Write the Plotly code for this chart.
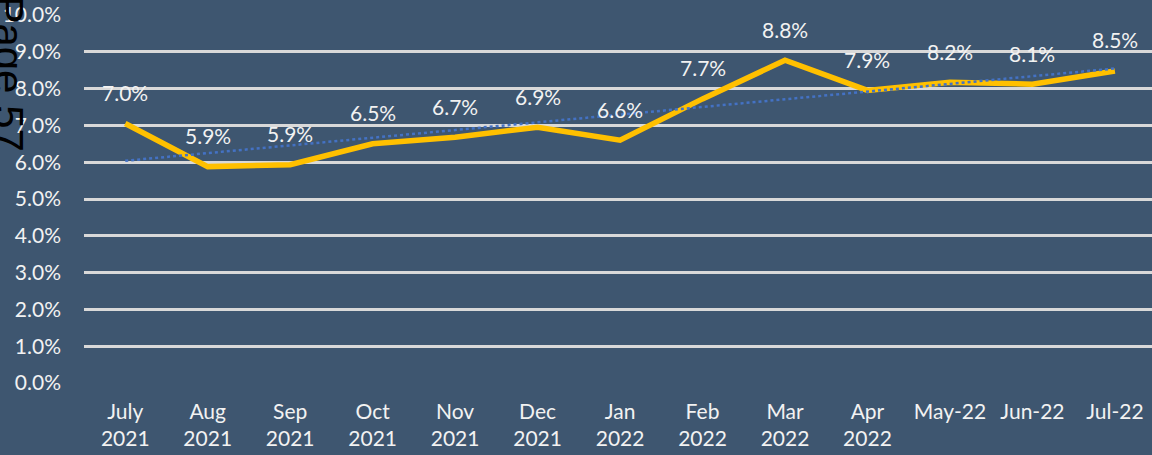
import plotly.graph_objects as go
import numpy as np

categories = ["July<br>2021", "Aug<br>2021", "Sep<br>2021", "Oct<br>2021", "Nov<br>2021",
              "Dec<br>2021", "Jan<br>2022", "Feb<br>2022", "Mar<br>2022", "Apr<br>2022",
              "May-22", "Jun-22", "Jul-22"]
values = [7.05, 5.88, 5.93, 6.5, 6.68, 6.95, 6.6, 7.72, 8.77, 7.95, 8.17, 8.12, 8.48]
labels = ["7.0%", "5.9%", "5.9%", "6.5%", "6.7%", "6.9%", "6.6%", "7.7%", "8.8%",
          "7.9%", "8.2%", "8.1%", "8.5%"]
y_ticks = [0, 1, 2, 3, 4, 5, 6, 7, 8, 9, 10]

# linear trendline (least squares), like the spreadsheet's trendline
xi = np.arange(len(values))
slope, intercept = np.polyfit(xi, values, 1)
trend = list(intercept + slope * xi)

BG = "#3E5670"
FONT = "Lato"
FS = 21

fig = go.Figure()
fig.add_trace(go.Scatter(x=categories, y=values, mode="lines",
                         line=dict(color="#FFC000", width=5.5), hoverinfo="skip"))
fig.add_trace(go.Scatter(x=categories, y=trend, mode="lines",
                         line=dict(color="#4472C4", width=2.5, dash="dot"), hoverinfo="skip"))

for c, v, t in zip(categories, values, labels):
    fig.add_annotation(x=c, y=v, text=t, showarrow=False, yshift=31,
                       font=dict(family=FONT, size=FS, color="#F2F2F2"))

fig.add_annotation(xref="paper", yref="paper", x=-0.0954, y=1.0598, xanchor="left", yanchor="top",
                   text="Page 57", textangle=90, showarrow=False,
                   font=dict(family="Liberation Sans", size=42, color="black"))

fig.update_layout(
    width=1152, height=455,
    paper_bgcolor=BG, plot_bgcolor=BG,
    margin=dict(l=84, r=0, t=15, b=72),
    showlegend=False,
    font=dict(family=FONT, size=FS, color="#F2F2F2"),
)
fig.update_xaxes(type="category", range=[-0.5, 12.45], showgrid=False, showline=False,
                 zeroline=False, ticks="", ticklabelstandoff=14,
                 tickfont=dict(family=FONT, size=FS, color="#F2F2F2"))
fig.update_yaxes(range=[0, 10], tickvals=y_ticks, ticktext=[f"{v:.1f}%" for v in y_ticks],
                 showgrid=True, gridcolor="#D9D9D9", gridwidth=2.5, zeroline=False,
                 showline=False, ticks="", ticklabelstandoff=22,
                 tickfont=dict(family=FONT, size=FS, color="#F2F2F2"))

fig.write_html("out.html", config={"displayModeBar": False},
               post_script="document.body.style.margin='0';")
